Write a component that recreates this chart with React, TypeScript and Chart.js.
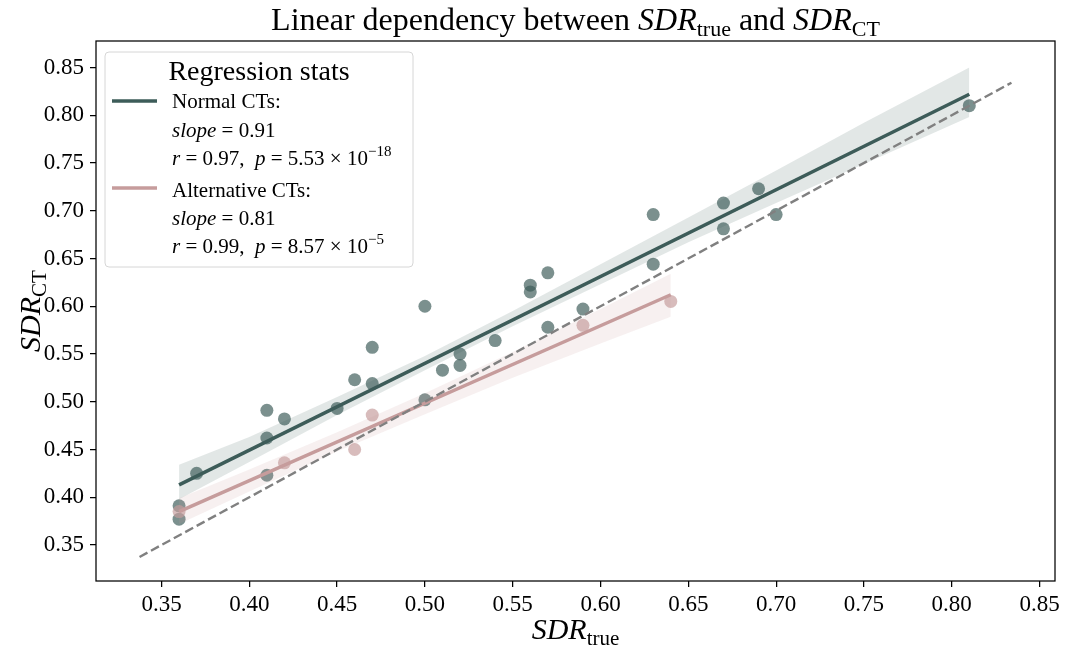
import React, { useEffect, useRef } from 'react';
import { Chart, registerables } from 'chart.js';

Chart.register(...registerables);

// ---------- data ----------
const normalX = [0.36, 0.36, 0.37, 0.41, 0.41, 0.41, 0.42, 0.45, 0.46, 0.47, 0.47, 0.5, 0.5, 0.51, 0.52, 0.52, 0.54, 0.56, 0.56, 0.57, 0.57, 0.59, 0.63, 0.63, 0.67, 0.67, 0.69, 0.7, 0.81];
const normalY = [0.391, 0.377, 0.425, 0.491, 0.462, 0.423, 0.482, 0.493, 0.523, 0.557, 0.519, 0.6, 0.502, 0.533, 0.55, 0.538, 0.564, 0.622, 0.615, 0.635, 0.578, 0.597, 0.696, 0.644, 0.708, 0.681, 0.723, 0.696, 0.81];

const altX = [0.36, 0.42, 0.46, 0.47, 0.59, 0.64];
const altY = [0.385, 0.436, 0.45, 0.486, 0.58, 0.605];

const normalFitX = [0.36, 0.81];
const normalFitY = [0.413, 0.822];
const altFitX = [0.36, 0.64];
const altFitY = [0.385, 0.612];

const normalBandX = [0.36, 0.4, 0.45, 0.5, 0.55, 0.6, 0.65, 0.7, 0.75, 0.81];
const normalBandLo = [0.398, 0.437, 0.486, 0.533, 0.579, 0.623, 0.667, 0.708, 0.749, 0.798];
const normalBandHi = [0.434, 0.463, 0.505, 0.548, 0.595, 0.644, 0.693, 0.742, 0.792, 0.85];

const altBandX = [0.36, 0.4, 0.45, 0.5, 0.55, 0.6, 0.64];
const altBandLo = [0.372, 0.406, 0.448, 0.487, 0.525, 0.561, 0.589];
const altBandHi = [0.399, 0.429, 0.468, 0.509, 0.552, 0.597, 0.634];

const identityX = [0.3375, 0.834];
const identityY = [0.3375, 0.834];

const xTicks = [0.35, 0.4, 0.45, 0.5, 0.55, 0.6, 0.65, 0.7, 0.75, 0.8, 0.85];
const yTicks = [0.35, 0.4, 0.45, 0.5, 0.55, 0.6, 0.65, 0.7, 0.75, 0.8, 0.85];
const xRange = [0.3127, 0.8588];
const yRange = [0.3123, 0.8777];

const legendTitle = 'Regression stats';
const normalLabel = 'Normal CTs:';
const normalSlope = '0.91';
const normalR = '0.97';
const normalP = '5.53';
const normalPExp = '\u221218';
const altLabel = 'Alternative CTs:';
const altSlope = '0.81';
const altR = '0.99';
const altP = '8.57';
const altPExp = '\u22125';

// ---------- styles ----------
const NORMAL = '#3d5c59';
const ALT = '#c69c9c';
const FAM = '"Liberation Serif", "Times New Roman", serif';

const pts = (xs: number[], ys: number[]) => xs.map((x, i) => ({ x, y: ys[i] }));

type Part = { t: string; it?: boolean; s: number; dy?: number };

function drawParts(ctx: CanvasRenderingContext2D, parts: Part[], x: number, y: number, align: 'left' | 'center') {
  let total = 0;
  const widths: number[] = [];
  for (const p of parts) {
    ctx.font = `${p.it ? 'italic ' : ''}${p.s}px ${FAM}`;
    const w = ctx.measureText(p.t).width;
    widths.push(w);
    total += w;
  }
  let cx = align === 'center' ? x - total / 2 : x;
  ctx.textAlign = 'left';
  ctx.textBaseline = 'alphabetic';
  ctx.fillStyle = '#000';
  parts.forEach((p, i) => {
    ctx.font = `${p.it ? 'italic ' : ''}${p.s}px ${FAM}`;
    ctx.fillText(p.t, cx, y + (p.dy || 0));
    cx += widths[i];
  });
}

const decorPlugin = {
  id: 'decor',
  afterDraw(chart: any) {
    const ctx: CanvasRenderingContext2D = chart.ctx;
    const a = chart.chartArea;
    ctx.save();
    // frame
    ctx.strokeStyle = '#000';
    ctx.lineWidth = 1.25;
    ctx.strokeRect(a.left, a.top, a.right - a.left, a.bottom - a.top);

    // title
    const cxm = (a.left + a.right) / 2;
    drawParts(ctx, [
      { t: 'Linear dependency between ', s: 32 },
      { t: 'SDR', s: 32, it: true },
      { t: 'true', s: 22, dy: 6 },
      { t: ' and ', s: 32 },
      { t: 'SDR', s: 32, it: true },
      { t: 'CT', s: 22, dy: 6 },
    ], cxm, 30, 'center');

    // x label
    drawParts(ctx, [
      { t: 'SDR', s: 30, it: true },
      { t: 'true', s: 21, dy: 6 },
    ], cxm, 639, 'center');

    // y label
    ctx.save();
    ctx.translate(40, (a.top + a.bottom) / 2);
    ctx.rotate(-Math.PI / 2);
    drawParts(ctx, [
      { t: 'SDR', s: 30, it: true },
      { t: 'CT', s: 21, dy: 6 },
    ], 0, 0, 'center');
    ctx.restore();

    // legend box
    const lx = 105, ly = 52, lw = 308, lh = 215, r = 4;
    ctx.beginPath();
    ctx.moveTo(lx + r, ly);
    ctx.lineTo(lx + lw - r, ly);
    ctx.arcTo(lx + lw, ly, lx + lw, ly + r, r);
    ctx.lineTo(lx + lw, ly + lh - r);
    ctx.arcTo(lx + lw, ly + lh, lx + lw - r, ly + lh, r);
    ctx.lineTo(lx + r, ly + lh);
    ctx.arcTo(lx, ly + lh, lx, ly + lh - r, r);
    ctx.lineTo(lx, ly + r);
    ctx.arcTo(lx, ly, lx + r, ly, r);
    ctx.closePath();
    ctx.fillStyle = 'rgba(255,255,255,0.8)';
    ctx.fill();
    ctx.strokeStyle = '#d6d6d6';
    ctx.lineWidth = 1;
    ctx.stroke();

    drawParts(ctx, [{ t: legendTitle, s: 28 }], 259, 80, 'center');

    // handles
    ctx.lineWidth = 3.5;
    ctx.strokeStyle = NORMAL;
    ctx.beginPath(); ctx.moveTo(112, 101); ctx.lineTo(157, 101); ctx.stroke();
    ctx.strokeStyle = ALT;
    ctx.beginPath(); ctx.moveTo(112, 188); ctx.lineTo(157, 188); ctx.stroke();

    const tx = 172;
    const S = 21;
    drawParts(ctx, [{ t: normalLabel, s: S }], tx, 108, 'left');
    drawParts(ctx, [{ t: 'slope', s: S, it: true }, { t: ' = ' + normalSlope, s: S }], tx, 137, 'left');
    drawParts(ctx, [
      { t: 'r', s: S, it: true }, { t: ' = ' + normalR + ',  ', s: S },
      { t: 'p', s: S, it: true }, { t: ' = ' + normalP + ' \u00d7 10', s: S },
      { t: normalPExp, s: 15, dy: -9 },
    ], tx, 165, 'left');
    drawParts(ctx, [{ t: altLabel, s: S }], tx, 197, 'left');
    drawParts(ctx, [{ t: 'slope', s: S, it: true }, { t: ' = ' + altSlope, s: S }], tx, 225, 'left');
    drawParts(ctx, [
      { t: 'r', s: S, it: true }, { t: ' = ' + altR + ',  ', s: S },
      { t: 'p', s: S, it: true }, { t: ' = ' + altP + ' \u00d7 10', s: S },
      { t: altPExp, s: 15, dy: -9 },
    ], tx, 253, 'left');

    ctx.restore();
  },
};

export default function App() {
  const ref = useRef<HTMLCanvasElement | null>(null);

  useEffect(() => {
    if (!ref.current) return;
    const lineDs = (data: any[], color: string, width: number, order: number, extra: any = {}) => ({
      type: 'line',
      data,
      showLine: true,
      borderColor: color,
      borderWidth: width,
      pointRadius: 0,
      pointHoverRadius: 0,
      fill: false,
      tension: 0,
      order,
      ...extra,
    });

    const chart = new Chart(ref.current, {
      type: 'scatter',
      data: {
        datasets: [
          lineDs(pts(normalBandX, normalBandLo), 'rgba(0,0,0,0)', 0, 20),
          lineDs(pts(normalBandX, normalBandHi), 'rgba(0,0,0,0)', 0, 20, { fill: '-1', backgroundColor: 'rgba(61,92,89,0.15)' }),
          lineDs(pts(altBandX, altBandLo), 'rgba(0,0,0,0)', 0, 10),
          lineDs(pts(altBandX, altBandHi), 'rgba(0,0,0,0)', 0, 10, { fill: '-1', backgroundColor: 'rgba(198,156,156,0.15)' }),
          lineDs(pts(normalFitX, normalFitY), NORMAL, 3.5, 18),
          lineDs(pts(altFitX, altFitY), ALT, 3.5, 8),
          {
            type: 'scatter',
            data: pts(normalX, normalY),
            backgroundColor: 'rgba(61,92,89,0.68)',
            borderWidth: 0,
            pointRadius: 6.5,
            pointHoverRadius: 6.5,
            order: 19,
          },
          {
            type: 'scatter',
            data: pts(altX, altY),
            backgroundColor: 'rgba(198,156,156,0.68)',
            borderWidth: 0,
            pointRadius: 6.5,
            pointHoverRadius: 6.5,
            order: 9,
          },
          lineDs(pts(identityX, identityY), '#808080', 2.4, 1, { borderDash: [9, 4] }),
        ] as any,
      },
      options: {
        animation: false,
        responsive: false,
        devicePixelRatio: 1,
        events: [],
        layout: { padding: { top: 41, right: 10, left: 0, bottom: 0 } },
        plugins: {
          legend: { display: false },
          title: { display: false },
          tooltip: { enabled: false },
        },
        scales: {
          x: {
            type: 'linear',
            min: xRange[0],
            max: xRange[1],
            afterBuildTicks: (s: any) => { s.ticks = xTicks.map((v) => ({ value: v })); },
            afterFit: (s: any) => { s.height = 67; },
            border: { display: false },
            grid: { drawOnChartArea: false, drawTicks: true, tickLength: 6, color: '#000', lineWidth: 1.25 },
            ticks: {
              color: '#000',
              padding: 4,
              maxRotation: 0,
              autoSkip: false,
              font: { family: FAM, size: 23 },
              callback: (v: any) => Number(v).toFixed(2),
            },
          },
          y: {
            type: 'linear',
            min: yRange[0],
            max: yRange[1],
            afterBuildTicks: (s: any) => { s.ticks = yTicks.map((v) => ({ value: v })); },
            afterFit: (s: any) => { s.width = 96; },
            border: { display: false },
            grid: { drawOnChartArea: false, drawTicks: true, tickLength: 6, color: '#000', lineWidth: 1.25 },
            ticks: {
              color: '#000',
              padding: 6,
              autoSkip: false,
              font: { family: FAM, size: 23 },
              callback: (v: any) => Number(v).toFixed(2),
            },
          },
        },
      } as any,
      plugins: [decorPlugin as any],
    });
    return () => chart.destroy();
  }, []);

  return (
    <div style={{ position: 'fixed', left: 0, top: 0, width: 1065, height: 648, background: '#fff' }}>
      <canvas ref={ref} width={1065} height={648} style={{ display: 'block', width: 1065, height: 648 }} />
    </div>
  );
}
